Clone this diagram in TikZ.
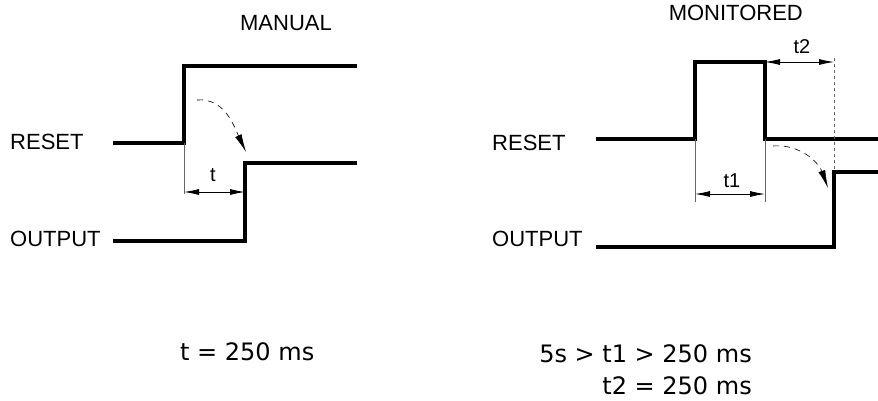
\documentclass[tikz,border=0pt]{standalone}
\usepackage{fontspec}
\setmainfont{Liberation Sans}
\newfontfamily\eqfont{DejaVu Sans}
\usetikzlibrary{arrows.meta}

\begin{document}
\begin{tikzpicture}[x=1pt,y=-1pt,
		sig/.style={line width=3.5pt,line join=miter},
		extline/.style={line width=0.6pt,black!60},
		dim/.style={line width=0.8pt,{Latex[length=15pt,width=6pt]}-{Latex[length=15pt,width=6pt]}},
		flow/.style={line width=0.6pt,dash pattern=on 6pt off 5pt,-{Latex[length=18pt,width=7pt]}},
		lbl/.style={font=\fontsize{22}{26}\selectfont,inner sep=0pt},
		tlbl/.style={font=\fontsize{20}{24}\selectfont,inner sep=0pt},
		eq/.style={font=\eqfont\fontsize{24}{28}\selectfont,inner sep=0pt}]
			\useasboundingbox (0,0) rectangle (878,400);
			% MANUAL
			\node[lbl,anchor=base east] (manual) at (332,30) {MANUAL};
			\node[lbl,anchor=base west] (resetL) at (10,149) {RESET};
			\node[lbl,anchor=base west] (outputL) at (10,246) {OUTPUT};
			\coordinate (rL) at (184,143);
			\coordinate (oL) at (245,241);
			\draw[sig] (113,143) -- (rL) -- (184,66) -- (357,66);
			\draw[sig] (113,241) -- (oL) -- (245,163) -- (357,163);
			\coordinate (dLa) at (184,192);
			\coordinate (dLb) at (245,192);
			\draw[extline] (rL) -- (184,194);
			\draw[dim] (dLa) -- (dLb);
			\node[tlbl,anchor=base] (tLbl) at (213,181) {t};
			\draw[flow] (197,100) to[out=5,in=115] (246,152);
			% MONITORED
			\node[lbl,anchor=base east] (monitored) at (803,20) {MONITORED};
			\node[lbl,anchor=base west] (resetR) at (492,150) {RESET};
			\node[lbl,anchor=base west] (outputR) at (492,246) {OUTPUT};
			\coordinate (rRa) at (695,139);
			\coordinate (rRb) at (765,139);
			\coordinate (oR) at (834,247);
			\draw[sig] (596,139) -- (rRa) -- (695,62) -- (765,62) -- (rRb) -- (878,139);
			\draw[sig] (596,247) -- (oR) -- (834,172) -- (878,172);
			\draw[extline] (rRa) -- (695,202);
			\draw[extline] (rRb) -- (765,202);
			\draw[dim] (695,194) -- (765,194);
			\node[tlbl,anchor=base] (tOneLbl) at (732,187) {t1};
			\draw[extline,dashed] (834,58) -- (834,172);
			\draw[dim] (765,62) -- (834,62);
			\node[tlbl,anchor=base] (tTwoLbl) at (802,53) {t2};
			\draw[flow] (773,146) to[out=5,in=110] (828,188);
			% timing notes
			\node[eq,anchor=base west] (eqL) at (180,360) {t = 250 ms};
			\node[eq,anchor=base east] (eqRa) at (752,362) {5s > t1 > 250 ms};
			\node[eq,anchor=base east] (eqRb) at (752,394) {t2 = 250 ms};
\end{tikzpicture}
\end{document}
